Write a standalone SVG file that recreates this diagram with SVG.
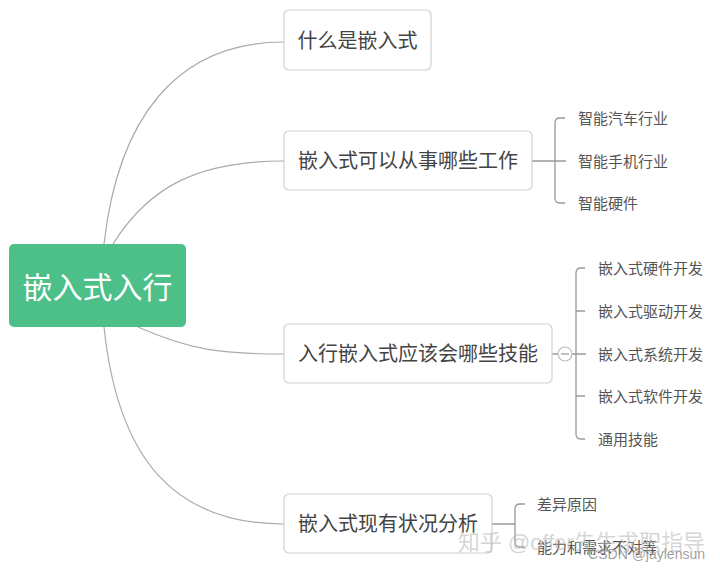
<svg xmlns="http://www.w3.org/2000/svg" width="720" height="570" viewBox="0 0 720 570">
<style>
.box{fill:#fff;stroke:#d0d0d0;stroke-width:1.2}
.t{font-family:"Liberation Sans","Noto Sans CJK SC",sans-serif;fill:#444;dominant-baseline:central}
.main{font-size:20px}
.sub{font-size:15px;fill:#555}
.c{fill:none;stroke:#aaa;stroke-width:1.2}
.b{fill:none;stroke:#999;stroke-width:1.3}
.wm{font-family:"Liberation Sans","Noto Sans CJK SC",sans-serif;fill:#bbb;fill-opacity:0.6}
</style>
<rect width="720" height="570" fill="#fff"/>
<g id="connectors">
<path class="c" d="M104,244 C118,120 175,42 284,42"/>
<path class="c" d="M113,244 C150,185 200,161 284,161"/>
<path class="c" d="M138,327 C190,350 220,354 284,354"/>
<path class="c" d="M104,327 C118,460 175,524 284,524"/>
<path class="b" d="M532,161 H566 M565,118 H560 Q555,118 555,123 V198 Q555,203 560,203 H565"/>
<path class="b" d="M552,354 H558 M572,354 H586 M585,268 H581 Q576,268 576,273 V434 Q576,439 581,439 H585 M576,311 H585 M576,396 H585"/>
<circle cx="565" cy="354" r="7" fill="#fff" stroke="#bbb" stroke-width="1.2"/>
<path d="M561,354 H569" stroke="#999" stroke-width="1.2"/>
<path class="b" d="M492,524 H515 M525,504 H520 Q515,504 515,509 V542 Q515,547 520,547 H525"/>
</g>
<g id="root">
<rect x="9" y="244" width="177" height="83" rx="5" fill="#4dc08a"/>
<text class="t" x="97.5" y="287" text-anchor="middle" font-size="30" style="fill:#fff">嵌入式入行</text>
</g>
<g id="n1">
<rect class="box" x="284" y="10" width="147" height="60" rx="5"/>
<text class="t main" x="357.5" y="41" text-anchor="middle">什么是嵌入式</text>
</g>
<g id="n2">
<rect class="box" x="284" y="131" width="248" height="59" rx="5"/>
<text class="t main" x="408" y="161" text-anchor="middle">嵌入式可以从事哪些工作</text>
</g>
<g id="n2a"><text class="t sub" x="578" y="118">智能汽车行业</text></g>
<g id="n2b"><text class="t sub" x="578" y="161">智能手机行业</text></g>
<g id="n2c"><text class="t sub" x="578" y="203">智能硬件</text></g>
<g id="n3">
<rect class="box" x="284" y="324" width="268" height="59" rx="5"/>
<text class="t main" x="418" y="354" text-anchor="middle">入行嵌入式应该会哪些技能</text>
</g>
<g id="n3a"><text class="t sub" x="598" y="268">嵌入式硬件开发</text></g>
<g id="n3b"><text class="t sub" x="598" y="311">嵌入式驱动开发</text></g>
<g id="n3c"><text class="t sub" x="598" y="354">嵌入式系统开发</text></g>
<g id="n3d"><text class="t sub" x="598" y="396">嵌入式软件开发</text></g>
<g id="n3e"><text class="t sub" x="598" y="439">通用技能</text></g>
<g id="n4">
<rect class="box" x="284" y="494" width="208" height="59" rx="5"/>
<text class="t main" x="388" y="524" text-anchor="middle">嵌入式现有状况分析</text>
</g>
<g id="n4a"><text class="t sub" x="537" y="504">差异原因</text></g>
<g id="n4b"><text class="t sub" x="537" y="547">能力和需求不对等</text></g>
<g id="watermark">
<text class="wm" x="458" y="550" font-size="22" textLength="247" lengthAdjust="spacingAndGlyphs">知乎 @offer先生求职指导</text>
<text class="wm" x="705" y="559" font-size="14" text-anchor="end" style="fill:#888;fill-opacity:0.8">CSDN @jaylensun</text>
</g>
</svg>
